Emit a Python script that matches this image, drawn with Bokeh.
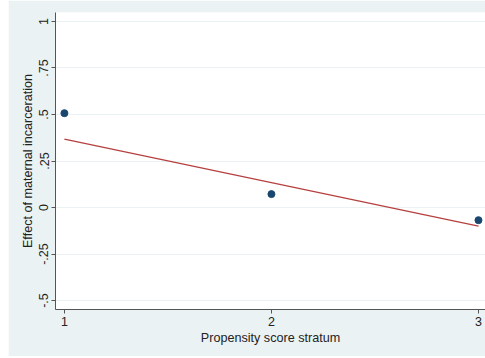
from bokeh.plotting import figure
from bokeh.layouts import row
from bokeh.models import FixedTicker, Range1d, Spacer, ColumnDataSource
from bokeh.embed import file_html
from bokeh.resources import INLINE

# Estimated effect per propensity score stratum
strata = [1, 2, 3]
effects = [0.507, 0.072, -0.068]

# Fitted line across strata
fit_x = [1, 3]
fit_y = [0.367, -0.100]

y_ticks = [-0.5, -0.25, 0, 0.25, 0.5, 0.75, 1]
y_tick_labels = ["-.5", "-.25", "0", ".25", ".5", ".75", "1"]
x_ticks = [1, 2, 3]

BG = "#eaf2f3"
FONT = "Liberation Sans"

p = figure(width=477, height=356, output_backend="svg", toolbar_location=None,
           x_range=Range1d(0.957, 3.034), y_range=Range1d(-0.548, 1.048),
           background_fill_color="white", border_fill_color=BG,
           min_border_left=47, min_border_right=0, min_border_top=12,
           min_border_bottom=47, outline_line_color=None)

p.line(fit_x, fit_y, line_color="#b5403f", line_width=1.3)
src = ColumnDataSource(dict(x=strata, y=effects))
p.scatter("x", "y", source=src, size=7, fill_color="#1a476f", line_color="#1a476f")

p.xgrid.visible = False
p.ygrid.grid_line_color = BG
p.ygrid.grid_line_width = 1
p.yaxis.ticker = FixedTicker(ticks=y_ticks)
p.yaxis.major_label_overrides = {t: l for t, l in zip(y_ticks, y_tick_labels)}
p.yaxis.major_label_orientation = "vertical"
p.xaxis.ticker = FixedTicker(ticks=x_ticks)

p.xaxis.axis_label = "Propensity score stratum"
p.yaxis.axis_label = "Effect of maternal incarceration"

for ax in (p.xaxis, p.yaxis):
    ax.axis_line_color = "#555555"
    ax.major_tick_line_color = "#555555"
    ax.major_tick_out = 4
    ax.major_tick_in = 0
    ax.minor_tick_line_color = None
    ax.major_label_text_font = FONT
    ax.major_label_text_font_size = "12.5px"
    ax.major_label_text_color = "#222222"
    ax.major_label_standoff = 3
    ax.axis_label_text_font = FONT
    ax.axis_label_text_font_size = "12.6px"
    ax.axis_label_text_font_style = "normal"
    ax.axis_label_text_color = "#222222"
    ax.axis_label_standoff = 2

layout = row(Spacer(width=8, height=356), p)
open("out.html", "w").write(file_html(layout, INLINE))
